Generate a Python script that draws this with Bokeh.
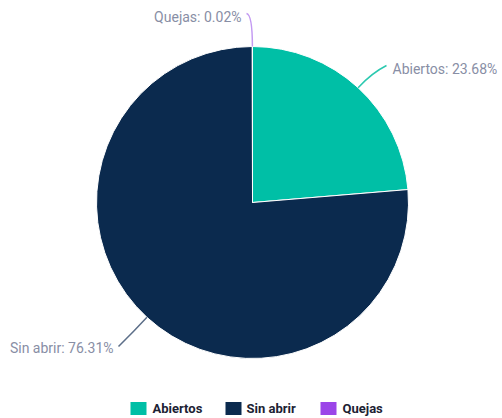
import math
from bokeh.plotting import figure
from bokeh.models import Range1d, ColumnDataSource
from bokeh.core.properties import value
from bokeh.embed import file_html
from bokeh.resources import INLINE

categories = ["Abiertos", "Sin abrir", "Quejas"]
percentages = [23.68, 76.31, 0.02]
colors = ["#00BFA6", "#0B2A4E", "#9B45E8"]
connector_colors = ["#2CC9B0", "#5D6F89", "#C39AF2"]

W, H = 502, 418
# data coords: x = picture x, y = H - picture y
p = figure(width=W, height=H, output_backend="svg", toolbar_location=None,
           x_range=Range1d(0, W), y_range=Range1d(0, H),
           min_border=0)
p.axis.visible = False
p.grid.visible = False
p.outline_line_color = None
p.background_fill_color = "white"

cx, cy, r = 252, H - 202, 156
total = sum(percentages)
start = math.pi / 2
starts, ends, mids = [], [], []
for v in percentages:
    a = v / total * 2 * math.pi
    starts.append(start)
    ends.append(start - a)
    mids.append(start - a / 2)
    start -= a

src = ColumnDataSource(dict(start=starts, end=ends, color=colors))
p.wedge(x=cx, y=cy, radius=r, start_angle="start", end_angle="end",
        direction="clock", fill_color="color", line_color="white",
        line_width=1, source=src)

# label connectors + labels
label_ends = [(386, H - 65), (118, H - 346), (246, H - 13)]
text_pos = [(392, H - 68, "left"), (113, H - 347, "right"), (241, H - 16, "right")]
for i, cat in enumerate(categories):
    m = mids[i]
    x0 = cx + r * math.cos(m)
    y0 = cy + r * math.sin(m)
    ext = 32 if i == 2 else 20
    xc = cx + (r + ext) * math.cos(m)
    yc = cy + (r + ext) * math.sin(m)
    x1, y1 = label_ends[i]
    p.quadratic(x0=x0, y0=y0, x1=x1, y1=y1, cx=xc, cy=yc,
                line_color=connector_colors[i], line_width=1.5)
    tx, ty, al = text_pos[i]
    p.text(x=[tx], y=[ty], text=[f"{cat}: {percentages[i]:.2f}%"],
           text_font=value("Roboto"), text_font_size="14px",
           text_color="#888EA5", text_align=al, text_baseline="middle")

# legend
sq_x = [138, 233, 328]
tx_x = [152, 246, 342]
ly = H - 408
for i, cat in enumerate(categories):
    p.rect(x=[sq_x[i]], y=[ly], width=16, height=13, fill_color=colors[i], line_color=None)
    p.text(x=[tx_x[i]], y=[ly], text=[cat], text_font=value("Roboto"),
           text_font_size="13px", text_font_style="bold", text_color="#1C2233",
           text_align="left", text_baseline="middle")

open("out.html", "w").write(file_html(p, INLINE))
